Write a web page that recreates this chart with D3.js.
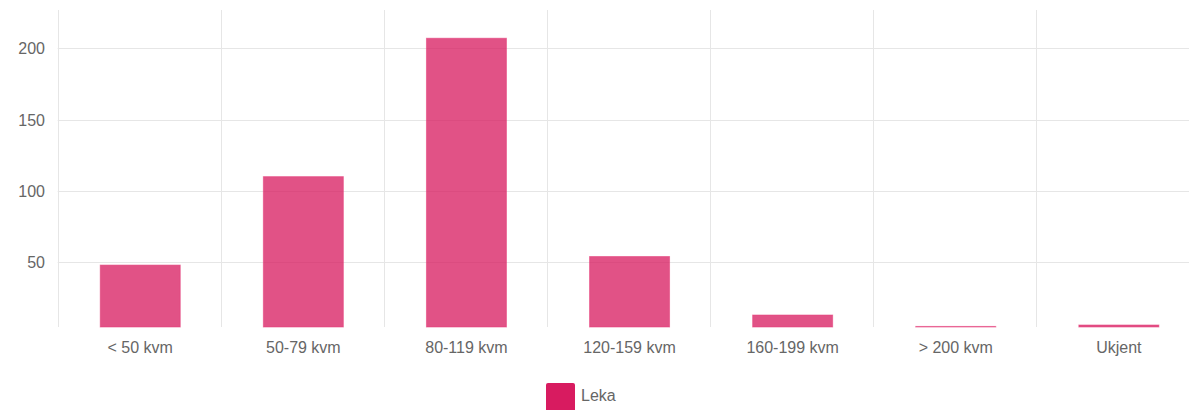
<!DOCTYPE html>
<html>
<head>
<meta charset="utf-8">
<script src="https://cdn.jsdelivr.net/npm/d3@7"></script>
<style>
  html, body { margin: 0; padding: 0; background: #fff; }
  svg { display: block; font-family: "Liberation Sans", Arial, Helvetica, sans-serif; }
</style>
</head>
<body>
<svg id="chart" width="1189" height="410"></svg>
<script>
const categories = ["< 50 kvm", "50-79 kvm", "80-119 kvm", "120-159 kvm", "160-199 kvm", "> 200 kvm", "Ukjent"];
const values = [48, 110, 207, 54, 13, 5, 6];
const yTicks = [50, 100, 150, 200];
const seriesName = "Leka";
const yDomain = [4.6, 226.8];

const svg = d3.select("#chart");
const plot = { left: 57.7, top: 10, bottom: 327, step: 163.1 };

const x = d3.scaleBand()
  .domain(categories)
  .range([plot.left, plot.left + plot.step * categories.length])
  .padding(0);

const y = d3.scaleLinear().domain(yDomain).range([plot.bottom, plot.top]);

const grid = svg.append("g");
grid.selectAll("line.h").data(yTicks).enter().append("line")
  .attr("x1", plot.left).attr("x2", 1189)
  .attr("y1", d => Math.round(y(d)) + 0.5).attr("y2", d => Math.round(y(d)) + 0.5)
  .attr("stroke", "#e6e6e6").attr("stroke-width", 1);
const bounds = categories.map(c => x(c)).concat([x(categories[categories.length - 1]) + x.step()]);
grid.selectAll("line.v").data(bounds).enter().append("line")
  .attr("x1", d => Math.round(d) + 0.5).attr("x2", d => Math.round(d) + 0.5)
  .attr("y1", plot.top).attr("y2", plot.bottom)
  .attr("stroke", "#e6e6e6").attr("stroke-width", 1);

const yAxis = d3.axisLeft(y).tickValues(yTicks).tickSize(0).tickPadding(0);
const yg = svg.append("g").attr("transform", "translate(45,0)").call(yAxis);
yg.select(".domain").remove();
yg.selectAll("text").attr("fill", "#666").style("font-size", "16px").attr("dy", "0.35em");

const xAxis = d3.axisBottom(x).tickSize(0).tickPadding(0);
const xg = svg.append("g").attr("transform", "translate(1,342)").call(xAxis);
xg.select(".domain").remove();
xg.selectAll("text").attr("fill", "#666").style("font-size", "16px").attr("dy", "0.71em");

const barW = 80;
svg.append("g").selectAll("rect").data(values).enter().append("rect")
  .attr("x", (d, i) => x(categories[i]) + x.bandwidth() / 2 - barW / 2 + 1)
  .attr("width", barW)
  .attr("y", d => y(d))
  .attr("height", d => Math.max(0, y(yDomain[0]) - y(d)))
  .attr("fill", "rgba(216,27,96,0.76)")
  .attr("stroke", "rgba(230,60,120,0.55)")
  .attr("stroke-width", 1);

const lg = svg.append("g");
lg.append("rect").attr("x", 546).attr("y", 383).attr("width", 29).attr("height", 30)
  .attr("rx", 2).attr("fill", "#d81b60");
lg.append("text").attr("x", 581).attr("y", 395).attr("dy", "0.35em")
  .attr("fill", "#666").style("font-size", "16px").text(seriesName);
</script>
</body>
</html>
